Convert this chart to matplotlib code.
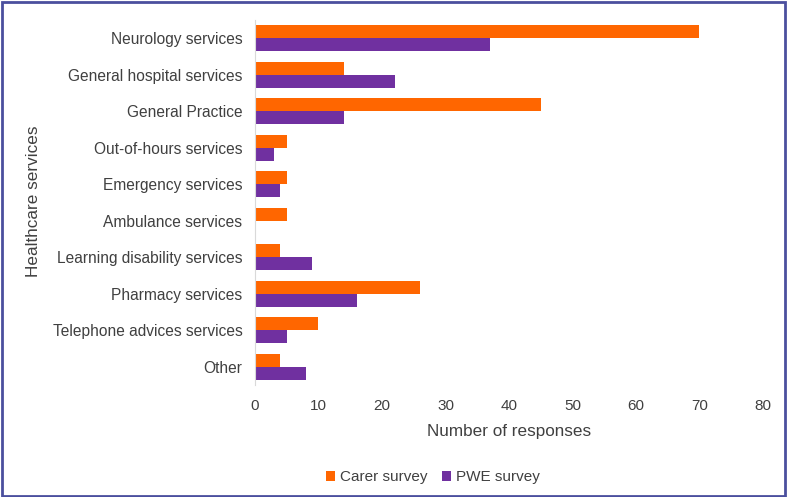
"""Healthcare services used, carer vs PWE survey (horizontal grouped bars)."""

import matplotlib

matplotlib.use("Agg")
import matplotlib.pyplot as plt
import numpy as np
from matplotlib.patches import Rectangle

categories = [
    "Neurology services",
    "General hospital services",
    "General Practice",
    "Out-of-hours services",
    "Emergency services",
    "Ambulance services",
    "Learning disability services",
    "Pharmacy services",
    "Telephone advices services",
    "Other",
]
carer_survey = [70, 14, 45, 5, 5, 5, 4, 26, 10, 4]
pwe_survey = [37, 22, 14, 3, 4, 0, 9, 16, 5, 8]
x_ticks = [0, 10, 20, 30, 40, 50, 60, 70, 80]

ORANGE = "#FF6600"
PURPLE = "#7030A0"
TEXT = "#404040"

plt.rcParams["font.family"] = ["Liberation Sans", "DejaVu Sans"]

fig = plt.figure(figsize=(7.87, 4.97), dpi=100)
ax = fig.add_axes([0.324, 0.2254, 0.6455, 0.7344])

y = np.arange(len(categories))
h = 0.36
ax.barh(y - h / 2, carer_survey, height=h, color=ORANGE, label="Carer survey")
ax.barh(y + h / 2, pwe_survey, height=h, color=PURPLE, label="PWE survey")

ax.set_ylim(len(categories) - 0.5, -0.5)
ax.set_xlim(0, 80)
ax.set_xticks(x_ticks)
ax.set_yticks(y)
ax.set_yticklabels(categories)
ax.tick_params(axis="y", length=0, pad=9, labelsize=11.2, labelcolor=TEXT)
ax.tick_params(axis="x", length=0, pad=10, labelsize=11, labelcolor=TEXT)

for side in ("top", "right", "bottom"):
    ax.spines[side].set_visible(False)
ax.spines["left"].set_color("#D9D9D9")

ax.set_xlabel("Number of responses", fontsize=12.3, color=TEXT, labelpad=8)
fig.text(0.042, 0.595, "Healthcare services", rotation=90, fontsize=12.3,
         color=TEXT, ha="center", va="center")

handles, labels = ax.get_legend_handles_labels()
fig.legend(handles, labels, loc="center", bbox_to_anchor=(0.55, 0.04), ncol=2,
           frameon=False, fontsize=11, handlelength=0.6, handleheight=0.6,
           handletextpad=0.3, columnspacing=1.0, labelcolor=TEXT)

fig.patches.append(Rectangle((0.002, 0.003), 0.995, 0.993, transform=fig.transFigure,
                             fill=False, edgecolor="#4B4F9E", linewidth=2))

fig.savefig("out.png", dpi=100)
